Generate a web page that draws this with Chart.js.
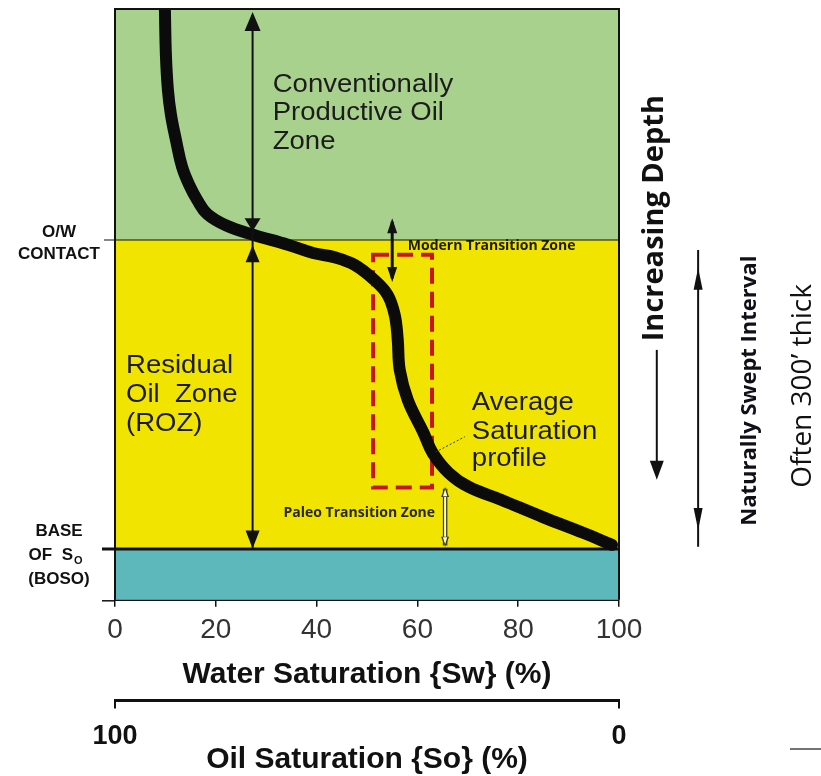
<!DOCTYPE html>
<html>
<head>
<meta charset="utf-8">
<script src="https://cdn.jsdelivr.net/npm/chart.js@4.4.1/dist/chart.umd.min.js"></script>
<style>
  html, body { margin: 0; padding: 0; background: #fff; }
</style>
</head>
<body>
<canvas id="roz" width="821" height="776"></canvas>
<script>
// Average saturation profile: water saturation % vs relative depth (0 = top, 100 = bottom)
const waterSat = [9.9, 10.1, 10.5, 11.1, 12.1, 13.3, 14.9, 16.3, 18.3, 22.2, 27.4, 34.3, 39.3, 43.5, 47.5, 51.5, 54.1, 55.5, 56.1, 56.5, 58.1, 61.2, 63.0, 66.2, 70.2, 76.7, 84.9, 93.0, 98.6];
const depth    = [0, 7.8, 13.7, 17.9, 22.2, 26.7, 30.1, 32.3, 34.7, 36.7, 38.2, 39.9, 41.3, 42.0, 43.3, 45.9, 48.4, 51.8, 56.0, 61.1, 66.2, 71.7, 75.1, 78.5, 80.9, 83.1, 86.0, 88.7, 90.7];

// zones (depth bounds)
const zoneTop    = [0, 39.1, 91.4];
const zoneBottom = [39.1, 91.4, 100];
const zoneColors = ['#a9d18e', '#f1e500', '#5cb8bb'];

// tick labels
const swTicks = [0, 20, 40, 60, 80, 100];
const soTicks = [100, 0];

const SANS = '"Liberation Sans", Arial, Helvetica, sans-serif';
const CAL = '"Open Sans", "Noto Sans", sans-serif';

function text(ctx, str, x, y, font, color, align, stretch) {
  ctx.save();
  ctx.font = font;
  ctx.fillStyle = color;
  ctx.textAlign = align || 'left';
  ctx.textBaseline = 'middle';
  ctx.translate(x, y);
  ctx.scale(stretch || 1, 1);
  ctx.fillText(str, 0, 0);
  ctx.restore();
}

function vtext(ctx, str, x, y, font, color) {
  ctx.save();
  ctx.font = font;
  ctx.fillStyle = color;
  ctx.textAlign = 'center';
  ctx.textBaseline = 'middle';
  ctx.translate(x, y);
  ctx.rotate(-Math.PI / 2);
  ctx.fillText(str, 0, 0);
  ctx.restore();
}

// solid arrow head, dir = -1 points up, +1 points down
function head(ctx, x, tipY, dir, len, half) {
  ctx.beginPath();
  ctx.moveTo(x, tipY);
  ctx.lineTo(x - half, tipY - dir * len);
  ctx.lineTo(x + half, tipY - dir * len);
  ctx.closePath();
  ctx.fill();
}

function vline(ctx, x, y1, y2, w, color) {
  ctx.strokeStyle = color;
  ctx.lineWidth = w;
  ctx.beginPath();
  ctx.moveTo(x, y1);
  ctx.lineTo(x, y2);
  ctx.stroke();
}

const overlay = {
  id: 'overlay',
  beforeDatasetsDraw(chart) {
    const {ctx, chartArea: a, scales: {x, y}} = chart;
    ctx.save();
    zoneTop.forEach((t, i) => {
      const y1 = y.getPixelForValue(t), y2 = y.getPixelForValue(zoneBottom[i]);
      ctx.fillStyle = zoneColors[i];
      ctx.fillRect(a.left, y1, a.right - a.left, y2 - y1);
    });

    // O/W contact and base of So
    const ow = y.getPixelForValue(zoneTop[1]);
    const boso = y.getPixelForValue(zoneTop[2]);
    ctx.strokeStyle = '#111';
    ctx.lineWidth = 1.2;
    ctx.beginPath(); ctx.moveTo(a.left - 11, ow); ctx.lineTo(a.right, ow); ctx.stroke();
    ctx.lineWidth = 3;
    ctx.beginPath(); ctx.moveTo(a.left - 13, boso); ctx.lineTo(a.right, boso); ctx.stroke();
    ctx.lineWidth = 1.5;
    ctx.beginPath(); ctx.moveTo(a.left - 13, a.bottom + 1); ctx.lineTo(a.left, a.bottom + 1); ctx.stroke();

    // dashed box around the modern transition part of the profile
    ctx.strokeStyle = '#c8141c';
    ctx.lineWidth = 4;
    ctx.setLineDash([16, 8]);
    const bx1 = x.getPixelForValue(51.2), bx2 = x.getPixelForValue(62.9);
    const by1 = y.getPixelForValue(41.6), by2 = y.getPixelForValue(81.0);
    ctx.strokeRect(bx1, by1, bx2 - bx1, by2 - by1);
    ctx.setLineDash([]);
    ctx.restore();
  },
  afterDatasetsDraw(chart) {
    const {ctx, chartArea: a, scales: {x, y}} = chart;
    const px = v => x.getPixelForValue(v), py = v => y.getPixelForValue(v);
    ctx.save();

    // frame
    ctx.strokeStyle = '#111';
    ctx.lineWidth = 2;
    ctx.beginPath();
    ctx.moveTo(a.left, a.bottom); ctx.lineTo(a.left, a.top); ctx.lineTo(a.right, a.top); ctx.lineTo(a.right, a.bottom);
    ctx.stroke();

    ctx.fillStyle = '#111';
    // main zone arrows
    const ax = px(27.3);
    vline(ctx, ax, py(1), py(91.2), 2, '#111');
    head(ctx, ax, py(0.5), -1, 19, 8);
    head(ctx, ax, py(37.6), 1, 13, 8);
    head(ctx, ax, py(40.0), -1, 17, 7);
    head(ctx, ax, py(91.3), 1, 18, 7);

    // modern transition zone arrow
    const mx = px(55.0);
    vline(ctx, mx, py(36), py(45.6), 3, '#111');
    head(ctx, mx, py(35.4), -1, 15, 5);
    head(ctx, mx, py(46.2), 1, 15, 5);

    // paleo transition zone arrow (hollow, light)
    const qx = px(65.5);
    vline(ctx, qx, py(81.2), py(90.8), 4.5, '#3a3a10');
    vline(ctx, qx, py(81.2), py(90.8), 2, '#fffbe6');
    ctx.fillStyle = '#3a3a10';
    head(ctx, qx, py(80.9), -1, 10, 4);
    head(ctx, qx, py(91.0), 1, 10, 4);
    ctx.fillStyle = '#fffbe6';
    head(ctx, qx, py(81.3), -1, 7, 2.2);
    head(ctx, qx, py(90.6), 1, 7, 2.2);

    // leader to the profile
    ctx.strokeStyle = '#333';
    ctx.lineWidth = 1;
    ctx.setLineDash([2, 2]);
    ctx.beginPath(); ctx.moveTo(px(63.6), py(75.0)); ctx.lineTo(px(69.4), py(72.4)); ctx.stroke();
    ctx.setLineDash([]);

    // zone labels inside the plot
    const dark = '#1c1c1c';
    const big = '25px ' + SANS;
    text(ctx, 'Conventionally', px(31.3), py(12.9), big, dark, 'left', 1.1);
    text(ctx, 'Productive Oil', px(31.3), py(17.7), big, dark, 'left', 1.1);
    text(ctx, 'Zone', px(31.3), py(22.5), big, dark, 'left', 1.1);

    text(ctx, 'Residual', px(2.2), py(60.4), big, dark, 'left', 1.1);
    text(ctx, 'Oil  Zone', px(2.2), py(65.3), big, dark, 'left', 1.1);
    text(ctx, '(ROZ)', px(2.2), py(70.2), big, dark, 'left', 1.1);

    text(ctx, 'Average', px(70.8), py(66.7), big, dark, 'left', 1.1);
    text(ctx, 'Saturation', px(70.8), py(71.6), big, dark, 'left', 1.1);
    text(ctx, 'profile', px(70.8), py(76.2), big, dark, 'left', 1.1);

    text(ctx, 'Modern Transition Zone', px(58.1), py(39.9) + 1, 'bold 14px ' + CAL, '#1a1a0a', 'left');
    text(ctx, 'Paleo Transition Zone', px(63.5), py(85.3), 'bold 14px ' + CAL, '#2a2a0a', 'right');

    // labels left of the plot
    const lx = a.left - 56;
    const ow = py(zoneTop[1]), boso = py(zoneTop[2]);
    const lf = 'bold 17px ' + SANS;
    text(ctx, 'O/W', lx, ow - 8, lf, '#111', 'center');
    text(ctx, 'CONTACT', lx, ow + 14, lf, '#111', 'center');
    text(ctx, 'BASE', lx, boso - 18, lf, '#111', 'center');
    text(ctx, 'OF  S', a.left - 42, boso + 6, lf, '#111', 'right');
    text(ctx, 'O', a.left - 41, boso + 12, 'bold 11px ' + SANS, '#111', 'left');
    text(ctx, '(BOSO)', lx, boso + 30, lf, '#111', 'center');

    // right side annotations
    vtext(ctx, 'Increasing Depth', px(107.0), py(35.4), 'bold 29px ' + CAL, '#111');
    const ix = px(107.5);
    vline(ctx, ix, py(57.7), py(78), 2, '#111');
    ctx.fillStyle = '#111';
    head(ctx, ix, py(79.7), 1, 19, 7);

    const nx = px(115.7);
    vline(ctx, nx, py(40.8), py(91.0), 2, '#111');
    head(ctx, nx, py(43.8), -1, 22, 4.5);
    head(ctx, nx, py(88.2), 1, 22, 4.5);
    vtext(ctx, 'Naturally Swept Interval', px(126.0), py(64.6), 'bold 22px ' + CAL, '#101018');

    vtext(ctx, 'Often 300\u2019 thick', px(136.5), py(63.8), '28px ' + CAL, '#111');

    // small rule at the lower right edge
    ctx.strokeStyle = '#444';
    ctx.lineWidth = 1.5;
    ctx.beginPath(); ctx.moveTo(790, 749); ctx.lineTo(821, 749); ctx.stroke();

    ctx.restore();
  }
};

new Chart(document.getElementById('roz'), {
  type: 'scatter',
  data: {
    datasets: [{
      label: 'Average Saturation profile',
      data: waterSat.map((v, i) => ({x: v, y: depth[i]})),
      showLine: true,
      borderColor: '#0b0b0b',
      borderWidth: 12,
      borderCapStyle: 'round',
      borderJoinStyle: 'round',
      pointRadius: 0,
      tension: 0.4,
      clip: 0
    }]
  },
  options: {
    responsive: false,
    animation: false,
    layout: {padding: {left: 115, right: 202, top: 9, bottom: 4}},
    plugins: {legend: {display: false}, tooltip: {enabled: false}},
    scales: {
      x: {
        type: 'linear', position: 'bottom', weight: 0, min: 0, max: 100,
        afterBuildTicks: s => { s.ticks = swTicks.map(v => ({value: v})); },
        border: {display: true, color: '#111', width: 2},
        grid: {display: true, drawOnChartArea: false, drawTicks: true, tickLength: 7, color: '#111', lineWidth: 1.5},
        ticks: {padding: 7, color: '#333', font: {family: SANS, size: 28, lineHeight: 1.2}},
        title: {display: true, text: 'Water Saturation {Sw} (%)', color: '#111',
          font: {family: SANS, size: 30, weight: 'bold', lineHeight: 1.2}, padding: {top: 2, bottom: 8}}
      },
      x2: {
        type: 'linear', position: 'bottom', weight: 1, min: 0, max: 100, reverse: true,
        afterBuildTicks: s => { s.ticks = soTicks.map(v => ({value: v})); },
        border: {display: true, color: '#111', width: 3},
        grid: {display: true, drawOnChartArea: false, drawTicks: true, tickLength: 8, color: '#111', lineWidth: 2},
        ticks: {padding: 17, color: '#111', font: {family: SANS, size: 27, weight: 'bold', lineHeight: 0.8}},
        title: {display: true, text: 'Oil Saturation {So} (%)', color: '#111',
          font: {family: SANS, size: 30, weight: 'bold', lineHeight: 0.8}, padding: {top: -16, bottom: 0}}
      },
      y: {type: 'linear', display: false, min: 0, max: 100, reverse: true}
    }
  },
  plugins: [overlay]
});
</script>
</body>
</html>
